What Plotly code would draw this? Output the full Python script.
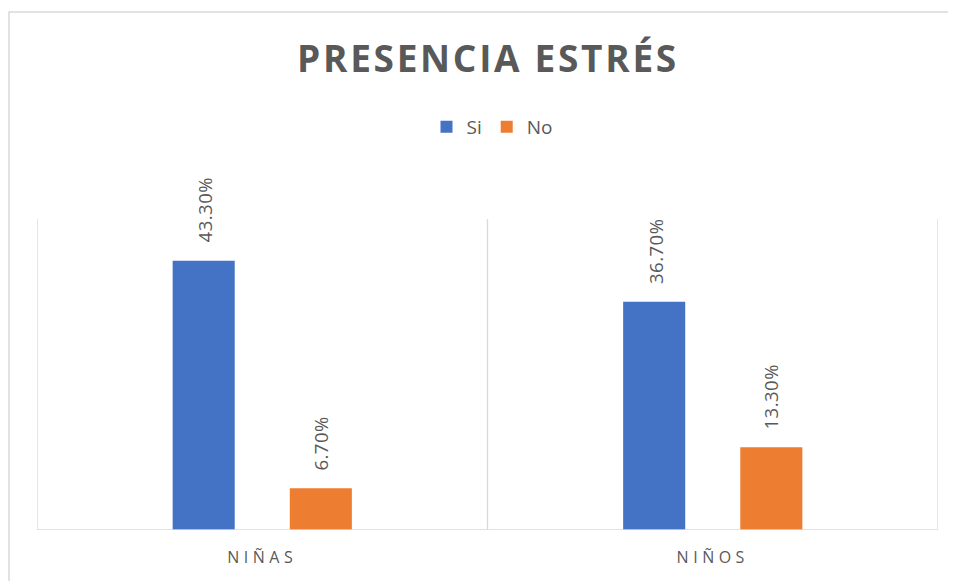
import plotly.graph_objects as go

categories = ["NIÑAS", "NIÑOS"]
tick_labels = ["NIÑAS", "NIÑOS"]
series_names = ["Si", "No"]
si_values = [43.3, 36.7]
no_values = [6.7, 13.3]
colors = ["#4472C4", "#ED7D31"]

OFF = 8  # page body margin
W, H = 956 - OFF, 581 - OFF
L, R, T, B = 37 - OFF, 18, 219 - OFF, 51
pw, ph = W - L - R, H - T - B
YMAX = 50

fig = go.Figure()
for name, vals, col in zip(series_names, [si_values, no_values], colors):
    fig.add_trace(go.Bar(name=name, x=categories, y=vals, marker=dict(color=col, line=dict(width=0))))

# data labels
shift = 58
for vals, xs in ((si_values, -shift), (no_values, shift)):
    for c, v in zip(categories, vals):
        fig.add_annotation(x=c, y=v, xref="x", yref="y",
                           text=f"<span style='letter-spacing:0.5px'>{v:.2f}%</span>", textangle=-90,
                           showarrow=False, xshift=xs, yshift=16, yanchor="bottom",
                           font=dict(family="Open Sans", size=18.5, color="#595959"))

grid = "#d9d9d9"
for xv in (-0.5, 0.5, 1.5):
    fig.add_shape(type="line", xref="x", yref="y", x0=xv, x1=xv, y0=0, y1=YMAX,
                  line=dict(color=grid, width=1.3))
fig.add_shape(type="line", xref="x", yref="y", x0=-0.5, x1=1.5, y0=0, y1=0,
              line=dict(color=grid, width=1.3))
# outer chart border
fig.add_shape(type="rect", xref="paper", yref="paper",
              x0=(1 - L) / pw, x1=(W + 5 - L) / pw,
              y0=-(B + 20) / ph, y1=(H - B - (12 - OFF)) / ph,
              line=dict(color=grid, width=1.5), fillcolor="rgba(0,0,0,0)", layer="below")

fig.update_layout(
    width=W, height=H,
    margin=dict(l=L, r=R, t=T, b=B),
    paper_bgcolor="white", plot_bgcolor="white",
    barmode="group", bargap=0.48, bargroupgap=0.47,
    title=dict(text="<b><span style='letter-spacing:2.7px'>PRESENCIA ESTRÉS</span></b>",
               x=(488 - OFF) / W, xref="container", xanchor="center",
               y=1 - (59 - OFF) / H, yanchor="middle",
               font=dict(family="Open Sans", size=37, color="#595959")),
    legend=dict(orientation="h", x=(492 - OFF - L) / pw, xanchor="center",
                y=(H - B - (127 - OFF)) / ph, yanchor="middle",
                font=dict(family="Open Sans", size=19, color="#595959"),
                itemwidth=30, traceorder="normal"),
    xaxis=dict(tickvals=categories,
               ticktext=[f"<span style='letter-spacing:4.5px'>{t}</span>" for t in tick_labels],
               showgrid=False, showline=False,
               ticks="", ticklabelstandoff=16,
               tickfont=dict(family="Open Sans", size=16, color="#595959"),
               range=[-0.5, 1.5]),
    yaxis=dict(range=[0, YMAX], visible=False),
    showlegend=True,
)

fig.write_html("out.html")
